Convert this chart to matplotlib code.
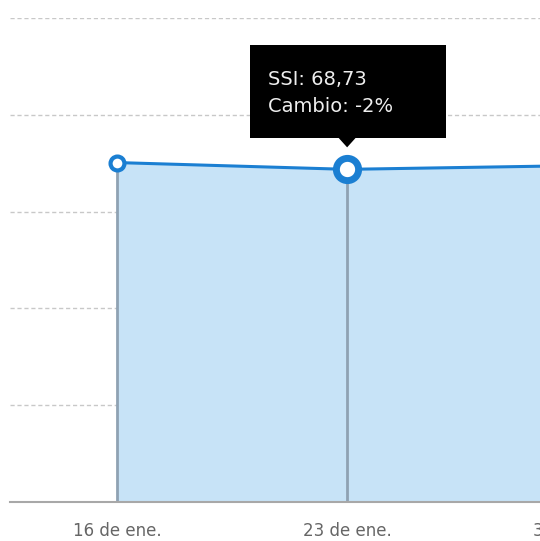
import numpy as np
import matplotlib
matplotlib.use("Agg")
import matplotlib.pyplot as plt
from matplotlib.patches import Rectangle, Polygon

# weekly SSI values (day of January)
days = [16, 23, 30]
ssi = [70.13, 68.73, 69.5]
tick_labels = ["16 de ene.", "23 de ene.", "30 de ene."]
hover_idx = 1
tooltip_lines = ["SSI: 68,73", "Cambio: -2%"]

W, H, DPI = 540, 541, 100
fig = plt.figure(figsize=(W / DPI, H / DPI), dpi=DPI)

# axes in pixel terms: left 10, right 540, bottom 502, top 18
ax = fig.add_axes([10 / W, (H - 502) / H, 530 / W, (502 - 18) / H])

blue = "#1b7fd2"
fill = "#c7e3f7"

ax.fill_between(days, ssi, 0, color=fill, lw=0, zorder=1)
for d, v in zip(days, ssi):
    ax.plot([d, d], [0, v], color="#8fa2b3", lw=2, zorder=2)
ax.plot(days, ssi, color=blue, lw=2.2, zorder=3)

for i, (d, v) in enumerate(zip(days, ssi)):
    if i == hover_idx:
        ax.plot(d, v, "o", ms=16, mfc="white", mec=blue, mew=5, zorder=5)
    else:
        ax.plot(d, v, "o", ms=10, mfc="white", mec=blue, mew=3, zorder=4)

ax.set_yticks([20, 40, 60, 80, 100])
ax.yaxis.grid(True, color="#c8c8c8", ls=(0, (3, 2)), lw=1)
ax.set_axisbelow(True)
ax.tick_params(axis="y", left=False, labelleft=False)
ax.set_xticks([])
ax.set_xlim(12.74, 28.87)
ax.set_ylim(0, 100)
for s in ["top", "right", "left"]:
    ax.spines[s].set_visible(False)
ax.spines["bottom"].set_color("#a8a8a8")
ax.spines["bottom"].set_linewidth(1.5)

# date labels (the last one runs off the right edge, as in the page)
for d, lab in zip(days, tick_labels):
    ax.text(d, -0.06, lab, transform=ax.get_xaxis_transform(), ha="center",
            va="center", color="#666666", fontsize=12, clip_on=False)

# tooltip drawn in pixel space above the hovered point
fig.canvas.draw()
px, py = ax.transData.transform((days[hover_idx], ssi[hover_idx]))
bx0, bx1 = px - 97, px + 99
by0, by1 = py + 31, py + 124
fig.patches.append(Rectangle((bx0, by0), bx1 - bx0, by1 - by0, transform=None,
                             facecolor="black", edgecolor="none", zorder=10))
fig.patches.append(Polygon([[px - 9, by0 + 1], [px + 9, by0 + 1], [px, by0 - 9]],
                           closed=True, transform=None, facecolor="black",
                           edgecolor="none", zorder=10))
fig.text(bx0 + 18, by1 - 34, tooltip_lines[0], transform=None, color="#eeeeee",
         fontsize=14, va="center", zorder=11)
fig.text(bx0 + 18, by1 - 61, tooltip_lines[1], transform=None, color="#eeeeee",
         fontsize=14, va="center", zorder=11)

fig.savefig("out.png", dpi=DPI)
